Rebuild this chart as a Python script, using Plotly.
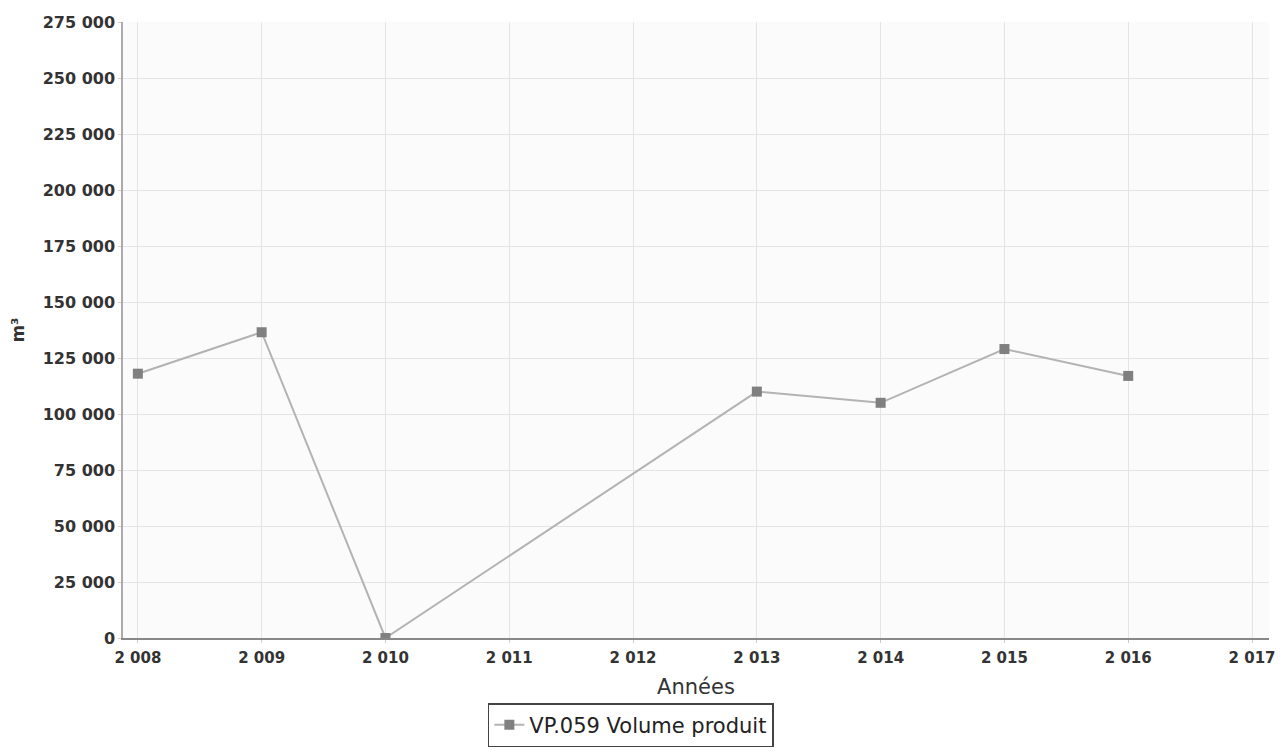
import plotly.graph_objects as go

years = [2008, 2009, 2010, 2013, 2014, 2015, 2016]
volumes = [118000, 136500, 0, 110000, 105000, 129000, 117000]
x_ticks = [2008, 2009, 2010, 2011, 2012, 2013, 2014, 2015, 2016, 2017]
x_tick_labels = ["2 008", "2 009", "2 010", "2 011", "2 012", "2 013", "2 014", "2 015", "2 016", "2 017"]
series_name = "VP.059 Volume produit"

fig = go.Figure()
fig.add_trace(go.Scatter(
    x=years, y=volumes, mode="lines+markers", name=series_name,
    line=dict(color="#b3b3b3", width=2),
    marker=dict(symbol="square", size=10, color="#808080"),
))

ytickfont = dict(family="DejaVu Sans", size=16, color="#333333", weight="bold")
xtickfont = dict(family="DejaVu Sans", size=15, color="#333333", weight="bold")
fig.update_layout(
    width=1279, height=739,
    margin=dict(l=115, r=18, t=14, b=109, autoexpand=False),
    paper_bgcolor="white", plot_bgcolor="#fbfbfb",
    separators=", ",
    showlegend=True,
    legend=dict(orientation="h", xref="container", yref="container",
                x=0.487, xanchor="center", y=0.0, yanchor="bottom",
                bordercolor="#444444", borderwidth=1.5,
                font=dict(family="DejaVu Sans", size=21, color="#222222")),
    xaxis=dict(range=[2007.88, 2017.137], tickvals=x_ticks, ticktext=x_tick_labels,
               tickfont=xtickfont, showgrid=True, gridcolor="#e4e4e4",
               showline=True, linecolor="#888888", linewidth=1.5,
               ticks="outside", ticklen=3, tickcolor="#cccccc", ticklabelstandoff=2,
               ticklabeloverflow="allow",
               title=dict(text="Années", font=dict(family="DejaVu Sans", size=21, color="#333333"), standoff=14),
               zeroline=False),
    yaxis=dict(range=[0, 275000], tickvals=list(range(0, 275001, 25000)), tickformat=",d",
               tickfont=ytickfont, showgrid=True, gridcolor="#e4e4e4",
               showline=True, linecolor="#aaaaaa", linewidth=1.5,
               ticks="outside", ticklen=3, tickcolor="#cccccc",
               title=dict(text="m³", font=dict(family="DejaVu Sans", size=17, color="#333333", weight="bold"), standoff=14),
               zeroline=False),
)
fig.write_html("out.html")
